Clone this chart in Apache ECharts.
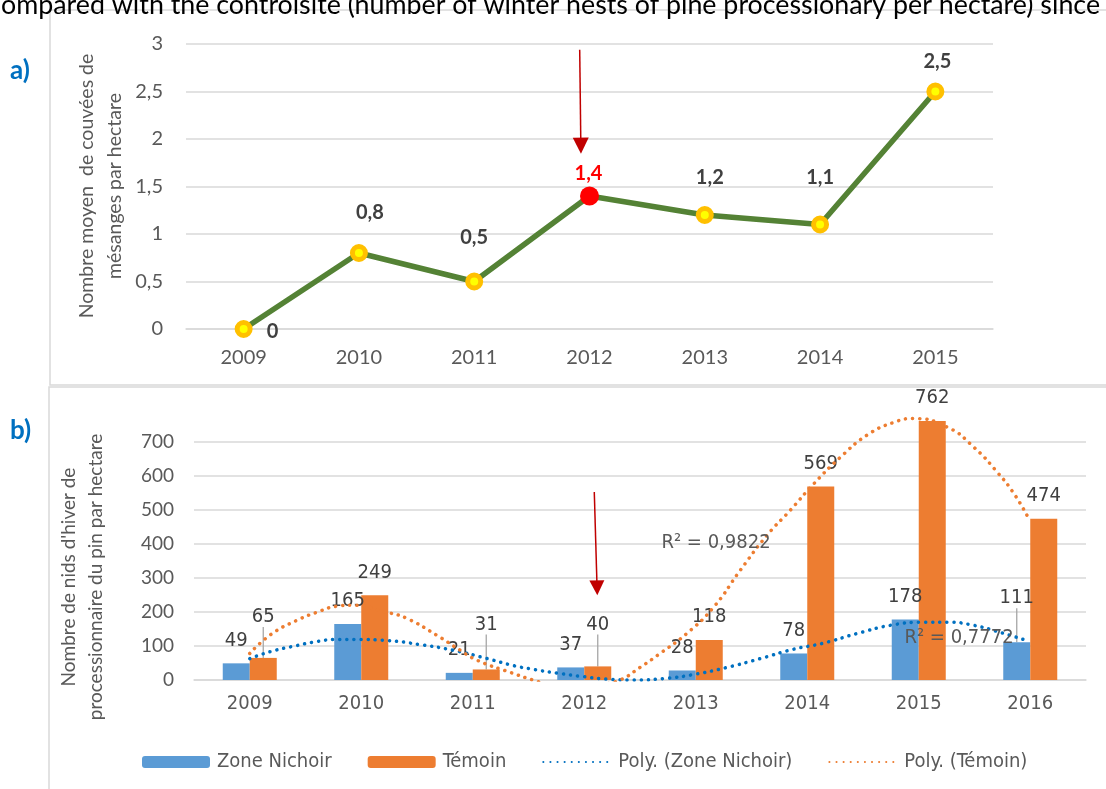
<!DOCTYPE html>
<html><head><meta charset="utf-8">
<script src="https://cdn.jsdelivr.net/npm/echarts@6/dist/echarts.min.js"></script>
<style>html,body{margin:0;padding:0;background:#fff}#c{width:1106px;height:789px}</style>
</head><body><div id="c"></div>
<script>
// ---------- data ----------
const yearsA = ['2009','2010','2011','2012','2013','2014','2015'];
const broodsPerHa = [0, 0.8, 0.5, 1.4, 1.2, 1.1, 2.5];
const yTicksA = [0, 0.5, 1, 1.5, 2, 2.5, 3];

const yearsB = ['2009','2010','2011','2012','2013','2014','2015','2016'];
const zoneNichoir = [49, 165, 21, 37, 28, 78, 178, 111];
const temoin = [65, 249, 31, 40, 118, 569, 762, 474];
const yTicksB = [0, 100, 200, 300, 400, 500, 600, 700];

// trend curves (x = category index)
const polyNichoirX = [0, 0.19, 0.39, 0.6, 0.78, 0.96, 1.23, 1.53, 1.83, 2.13, 2.37, 2.55, 2.76, 2.99, 3.23, 3.44, 3.74, 3.98, 4.28, 4.58, 4.87, 5.14, 5.45, 5.75, 6.04, 6.26, 6.49, 6.73, 6.96];
const polyNichoirY = [63, 84, 99, 113, 119, 119, 116, 104, 87, 63, 42, 31, 20, 10, 2, 0, 5, 16, 37, 63, 90, 108, 137, 161, 170, 170, 161, 140, 117];
const polyTemoinX = [0, 0.19, 0.42, 0.6, 0.78, 0.91, 1.23, 1.41, 1.68, 1.89, 2.04, 2.34, 2.54, 2.72, 2.93, 3.14, 3.32, 3.5, 3.68, 3.92, 4.16, 4.4, 4.64, 4.85, 5.05, 5.3, 5.54, 5.77, 5.95, 6.26, 6.49, 6.71, 6.85, 6.97];
const polyTemoinY = [78, 134, 175, 199, 217, 220, 199, 181, 131, 87, 58, 22, 0, -16, -22, -14, 0, 37, 78, 137, 214, 323, 426, 500, 574, 656, 721, 757, 769, 743, 686, 609, 550, 485];

// ---------- style helpers ----------
const labelNudgeA = [[29, 3], [11, -40], [0, -44], [-1, -22], [5, -37], [0, -47], [2, -30]];
const liftNichoir = [0, 0, 0, 0, 0, 0, 0, 21];
const liftTemoin = [18, 0, 22, 19, 0, 0, 0, 0];
const FN = 'Lato, "Open Sans", sans-serif';
const FC = '"Liberation Sans Narrow", "DejaVu Sans Condensed", sans-serif';
const comma = v => String(v).replace('.', ',');

const chart = echarts.init(document.getElementById('c'), null, {renderer: 'canvas'});

const dotted = c => ({color: c, width: 3.5, type: [0.1, 7], cap: 'round'});

const option = {
  animation: false,
  backgroundColor: '#fff',
  grid: [
    {left: 186, right: 113, top: 44, bottom: 460},
    {left: 194, right: 20, top: 408, bottom: 109}
  ],
  xAxis: [
    {gridIndex: 0, type: 'category', data: yearsA, boundaryGap: true,
     axisLine: {lineStyle: {color: '#D9D9D9', width: 1.5}}, axisTick: {show: false},
     axisLabel: {color: '#595959', fontFamily: FN, fontSize: 20, margin: 19}},
    {gridIndex: 0, type: 'value', min: -0.5, max: 6.5, show: false},
    {gridIndex: 1, type: 'category', data: yearsB, boundaryGap: true,
     axisLine: {lineStyle: {color: '#D9D9D9', width: 1.5}}, axisTick: {show: false},
     axisLabel: {color: '#595959', fontFamily: FC, fontSize: 20, margin: 14}},
    {gridIndex: 1, type: 'value', min: -0.5, max: 7.5, show: false}
  ],
  yAxis: [
    {gridIndex: 0, type: 'value', min: yTicksA[0], max: yTicksA[yTicksA.length - 1], interval: 0.5,
     axisLine: {show: false}, axisTick: {show: false},
     axisLabel: {color: '#595959', fontFamily: FN, fontSize: 20, margin: 23, formatter: comma},
     splitLine: {lineStyle: {color: '#D9D9D9', width: 1.5}}},
    {gridIndex: 1, type: 'value', min: 0, max: 800, interval: 100,
     axisLine: {show: false}, axisTick: {show: false},
     axisLabel: {color: '#595959', fontFamily: FN, fontSize: 19, margin: 20, showMaxLabel: false},
     splitLine: {showMaxLine: false, lineStyle: {color: '#D9D9D9', width: 1.5}}}
  ],
  legend: {
    left: 142, top: 752, padding: 0, itemWidth: 68, itemHeight: 12, itemGap: 36,
    data: [
      {name: 'Zone Nichoir'},
      {name: 'Témoin'},
      {name: 'Poly. (Zone Nichoir)', itemStyle: {opacity: 0}},
      {name: 'Poly. (Témoin)', itemStyle: {opacity: 0}}
    ],
    textStyle: {color: '#595959', fontFamily: FC, fontSize: 20, padding: [0, 0, 0, 2]}
  },
  series: [
    {
      name: 'broods', type: 'line', xAxisIndex: 0, yAxisIndex: 0,
      data: broodsPerHa.map((v, i) => {
        const item = {value: v, label: {offset: labelNudgeA[i]}};
        if (yearsA[i] === '2012') {
          item.symbolSize = 19;
          item.itemStyle = {color: '#FF0000', borderWidth: 0};
          item.label.color = '#FF0000';
        }
        return item;
      }),
      lineStyle: {color: '#548235', width: 5.5},
      symbol: 'circle', symbolSize: 13,
      itemStyle: {color: '#FFFF00', borderColor: '#FFC000', borderWidth: 5},
      label: {show: true, position: 'inside', formatter: p => comma(p.value),
              color: '#404040', fontFamily: FN, fontWeight: 'bold', fontSize: 20},
      emphasis: {disabled: true}, z: 3
    },
    {
      name: 'arrowA', type: 'line', xAxisIndex: 1, yAxisIndex: 0, data: [],
      markLine: {
        silent: true, symbol: ['none', 'triangle'], symbolSize: [16, 16],
        label: {show: false},
        lineStyle: {color: '#C00000', width: 1.5, type: 'solid'},
        data: [[{coord: [2.915, 2.94]}, {coord: [2.925, 1.93]}]]
      }
    },
    {
      name: 'Zone Nichoir', type: 'bar', xAxisIndex: 2, yAxisIndex: 1,
      data: zoneNichoir.map((v, i) => liftNichoir[i] ? {value: v, labelLine: {show: true}} : v),
      barWidth: 27, barGap: '0%',
      itemStyle: {color: '#5B9BD5'},
      label: {show: true, position: 'top', distance: 13, color: '#404040', fontFamily: FC, fontSize: 20},
      labelLayout: p => ({dy: -liftNichoir[p.dataIndex]}),
      labelLine: {show: false, lineStyle: {color: '#A6A6A6', width: 1.3}},
      emphasis: {disabled: true}
    },
    {
      name: 'Témoin', type: 'bar', xAxisIndex: 2, yAxisIndex: 1,
      data: temoin.map((v, i) => liftTemoin[i] ? {value: v, labelLine: {show: true}} : v),
      barWidth: 27, barGap: '0%',
      itemStyle: {color: '#ED7D31'},
      label: {show: true, position: 'top', distance: 13, color: '#404040', fontFamily: FC, fontSize: 20},
      labelLayout: p => ({dy: -liftTemoin[p.dataIndex]}),
      labelLine: {show: false, lineStyle: {color: '#A6A6A6', width: 1.3}},
      emphasis: {disabled: true}
    },
    {
      name: 'Poly. (Zone Nichoir)', type: 'line', xAxisIndex: 3, yAxisIndex: 1,
      data: polyNichoirX.map((x, i) => [x, polyNichoirY[i]]),
      smooth: true, showSymbol: false, symbol: 'none', clip: true,
      lineStyle: dotted('#0070C0'), itemStyle: {color: '#0070C0'},
      emphasis: {disabled: true}, z: 4
    },
    {
      name: 'Poly. (Témoin)', type: 'line', xAxisIndex: 3, yAxisIndex: 1,
      data: polyTemoinX.map((x, i) => [x, polyTemoinY[i]]),
      smooth: true, showSymbol: false, symbol: 'none', clip: true,
      lineStyle: dotted('#ED7D31'), itemStyle: {color: '#ED7D31'},
      emphasis: {disabled: true}, z: 4,
      markLine: {
        silent: true, symbol: ['none', 'triangle'], symbolSize: [15, 15],
        label: {show: false},
        lineStyle: {color: '#C00000', width: 1.5, type: 'solid', cap: 'butt'},
        data: [[{coord: [3.09, 553]}, {coord: [3.115, 271]}]]
      }
    }
  ],
  graphic: [
    {type: 'rect', shape: {x: 50, y: 10, width: 1100, height: 375}, style: {fill: 'none', stroke: '#D9D9D9', lineWidth: 1.5}, silent: true},
    {type: 'rect', shape: {x: 49, y: 387, width: 1100, height: 430}, style: {fill: 'none', stroke: '#D9D9D9', lineWidth: 1.5}, silent: true},
    {type: 'text', x: 1, y: 5, z: 100, style: {text: 'ompared with the controlsite (number of winter nests of pine processionary per hectare) since', fill: '#000', font: '26.8px ' + FN, verticalAlign: 'middle'}},
    {type: 'text', x: 10, y: 71, z: 100, style: {text: 'a)', fill: '#0070C0', font: 'bold 26px ' + FN, verticalAlign: 'middle'}},
    {type: 'text', x: 10, y: 431, z: 100, style: {text: 'b)', fill: '#0070C0', font: 'bold 26px ' + FN, verticalAlign: 'middle'}},
    {type: 'text', x: 101, y: 186, rotation: Math.PI / 2, z: 100,
     style: {text: 'Nombre moyen  de couvées de\nmésanges par hectare', fill: '#595959', font: '19.5px ' + FN, align: 'center', verticalAlign: 'middle', lineHeight: 28}},
    {type: 'text', x: 82, y: 577, rotation: Math.PI / 2, z: 100,
     style: {text: "Nombre de nids d'hiver de\nprocessionnaire du pin par hectare", fill: '#595959', font: '19px ' + FN, align: 'center', verticalAlign: 'middle', lineHeight: 27}},
    {type: 'text', x: 716, y: 543, z: 100, style: {text: 'R² = 0,9822', fill: '#595959', font: '20px ' + FC, align: 'center', verticalAlign: 'middle'}},
    {type: 'text', x: 959, y: 638, z: 100, style: {text: 'R² = 0,7772', fill: '#595959', font: '20px ' + FC, align: 'center', verticalAlign: 'middle'}}
  ]
};
chart.setOption(option);
</script>
</body></html>
